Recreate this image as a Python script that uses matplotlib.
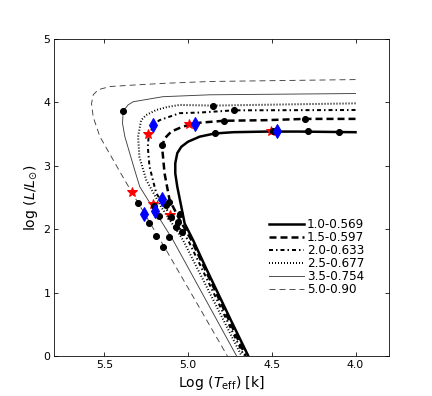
import matplotlib
matplotlib.use("Agg")
import matplotlib.pyplot as plt

# Track 1.0-0.569
t1_x = [4.00, 4.34, 4.53, 4.73, 4.84, 4.93, 5.00, 5.04, 5.064, 5.076, 5.076, 5.064, 5.04, 5.02, 4.97, 4.895, 4.83, 4.745, 4.64]
t1_y = [3.53, 3.54, 3.54, 3.53, 3.51, 3.46, 3.38, 3.30, 3.20, 3.04, 2.88, 2.67, 2.355, 2.09, 1.83, 1.40, 1.04, 0.57, 0.0]
# Track 1.5-0.597
t2_x = [4.00, 4.30, 4.534, 4.786, 4.93, 5.03, 5.10, 5.14, 5.155, 5.149, 5.14, 5.11, 5.05, 4.98, 4.655]
t2_y = [3.74, 3.74, 3.72, 3.71, 3.68, 3.62, 3.54, 3.43, 3.30, 3.14, 2.88, 2.46, 2.15, 1.83, 0.0]
# Track 2.0-0.633
t3_x = [4.00, 4.727, 4.93, 5.05, 5.17, 5.205, 5.235, 5.24, 5.23, 5.19, 5.10, 5.00, 4.665]
t3_y = [3.88, 3.875, 3.84, 3.83, 3.72, 3.65, 3.46, 3.30, 2.99, 2.57, 2.20, 1.83, 0.0]
# Track 2.5-0.677
t4_x = [4.00, 4.852, 5.05, 5.12, 5.19, 5.25, 5.28, 5.298, 5.29, 5.25, 5.16, 5.03, 4.68]
t4_y = [3.985, 3.95, 3.96, 3.93, 3.88, 3.80, 3.72, 3.46, 3.14, 2.78, 2.35, 1.83, 0.0]
# Track 3.5-0.754
t5_x = [4.00, 4.87, 5.15, 5.328, 5.358, 5.387, 5.391, 5.377, 5.318, 5.288, 5.09, 4.71]
t5_y = [4.14, 4.12, 4.09, 4.01, 3.96, 3.86, 3.67, 3.46, 2.93, 2.67, 1.83, 0.0]
# Track 5.0-0.90
t6_x = [4.00, 4.87, 5.15, 5.348, 5.467, 5.536, 5.566, 5.576, 5.566, 5.526, 5.39, 5.308, 5.13, 4.765]
t6_y = [4.36, 4.33, 4.30, 4.27, 4.25, 4.20, 4.12, 3.98, 3.77, 3.46, 2.83, 2.46, 1.67, 0.0]

labels = ["1.0-0.569", "1.5-0.597", "2.0-0.633", "2.5-0.677", "3.5-0.754", "5.0-0.90"]

dots_x = [5.387, 4.852, 4.727, 4.786, 4.30, 4.836, 4.495, 4.282, 4.10, 5.155,
          5.298, 5.233, 5.189, 5.149, 5.205, 5.173, 5.13, 5.113, 5.104, 5.074,
          5.06, 5.046, 5.038, 5.114]
dots_y = [3.86, 3.95, 3.875, 3.71, 3.74, 3.52, 3.55, 3.55, 3.54, 3.33,
          2.42, 2.09, 1.90, 1.72, 2.36, 2.21, 2.38, 2.43, 2.20, 2.04,
          2.12, 2.235, 1.96, 1.88]
stars_x = [5.332, 5.239, 5.209, 5.105, 4.996, 4.504]
stars_y = [2.59, 3.50, 2.40, 2.22, 3.66, 3.55]
diam_x = [5.207, 4.957, 4.471, 5.155, 5.199, 5.262]
diam_y = [3.65, 3.655, 3.55, 2.47, 2.29, 2.245]

plt.rcParams['lines.scale_dashes'] = False
fig = plt.figure(figsize=(6, 5.5), dpi=72)
ax = fig.add_axes([0.125, 0.101, 0.7755, 0.8005])

ax.plot(t1_x, t1_y, color='k', lw=2.5, ls='-', label=labels[0])
ax.plot(t2_x, t2_y, color='k', lw=2.5, dashes=(7, 4), label=labels[1])
ax.plot(t3_x, t3_y, color='k', lw=2.0, dashes=(4, 3, 1.5, 3), label=labels[2])
ax.plot(t4_x, t4_y, color='k', lw=2.0, dashes=(1, 2), label=labels[3])
ax.plot(t5_x, t5_y, color='0.25', lw=0.9, ls='-', label=labels[4])
ax.plot(t6_x, t6_y, color='0.25', lw=0.9, dashes=(6, 4), label=labels[5])

ax.plot(stars_x, stars_y, ls='none', marker='*', ms=11, color='red', mec='red')
ax.plot(dots_x, dots_y, ls='none', marker='o', ms=6, color='k')
ax.plot(diam_x, diam_y, ls='none', marker='d', ms=10, color='blue', mec='blue')

ax.set_xlim(5.8, 3.8)
ax.set_ylim(0, 5)
ax.set_xticks([5.5, 5.0, 4.5, 4.0])
ax.set_yticks([0, 1, 2, 3, 4, 5])
ax.tick_params(direction='in', top=True, right=True, length=4, labelsize=11)
ax.set_xlabel(r'Log ($T_{\rm eff}$) [k]', fontsize=14)
ax.set_ylabel(r'log $(L/L_{\odot})$', fontsize=14)

ax.legend(loc='upper left', bbox_to_anchor=(0.61, 0.468), frameon=False,
          fontsize=12, handlelength=2.9, handletextpad=0.25, labelspacing=0.0)

fig.savefig('out.png', dpi=72)
